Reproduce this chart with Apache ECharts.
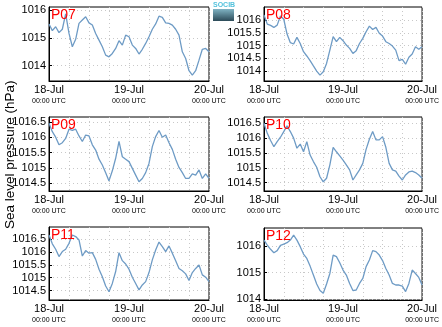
<!DOCTYPE html>
<html><head><meta charset="utf-8">
<script src="https://cdn.jsdelivr.net/npm/echarts@6/dist/echarts.min.js"></script>
<style>html,body{margin:0;padding:0;background:#fff}#c{width:442px;height:327px}</style>
</head><body><div id="c"></div>
<script>
// hours since 18-Jul 00:00 UTC
const hours = [0,1,2,3,4,5,6,7,8,9,10,11,12,13,14,15,16,17,18,19,20,21,22,23,24,25,26,27,28,29,30,31,32,33,34,35,36,37,38,39,40,41,42,43,44,45,46,47,48];
const xTickLabels = ['18-Jul','19-Jul','20-Jul'];
const xTickHours = [0,24,48];
const stations = ['P07','P08','P09','P10','P11','P12'];

const p07 = [1015.50,1015.26,1015.40,1015.19,1015.31,1015.86,1015.16,1014.68,1014.95,1015.52,1015.64,1015.76,1015.54,1015.46,1015.16,1014.92,1014.68,1014.38,1014.32,1014.44,1014.62,1014.90,1014.74,1015.10,1015.04,1014.74,1014.62,1014.42,1014.59,1014.80,1015.04,1015.31,1015.50,1015.78,1015.74,1015.54,1015.52,1015.46,1015.31,1015.10,1014.50,1014.26,1013.82,1013.66,1013.82,1014.20,1014.59,1014.62,1014.50];
const p08 = [1016.20,1015.84,1015.79,1015.71,1015.80,1016.16,1016.03,1015.45,1015.11,1015.06,1015.32,1015.08,1014.76,1014.59,1014.41,1014.20,1014.00,1013.84,1013.97,1014.30,1014.82,1015.35,1015.15,1015.32,1015.19,1015.02,1014.89,1014.69,1014.80,1015.08,1015.28,1015.54,1015.76,1015.63,1015.71,1015.48,1015.37,1015.15,1015.08,1014.98,1014.82,1014.41,1014.46,1014.27,1014.54,1014.67,1014.95,1014.85,1014.95];
const p09 = [1016.46,1016.18,1016.00,1015.75,1015.82,1015.96,1016.26,1016.22,1016.26,1016.04,1015.86,1016.07,1016.04,1015.75,1015.58,1015.28,1015.09,1014.84,1014.57,1014.90,1015.31,1015.86,1015.36,1015.28,1015.20,1014.98,1014.76,1014.54,1014.65,1014.84,1015.14,1015.69,1016.02,1016.22,1016.00,1016.07,1015.82,1015.60,1015.28,1015.01,1014.84,1014.65,1014.65,1014.80,1014.76,1014.93,1014.65,1014.80,1014.65];
const p10 = [1016.50,1016.16,1015.92,1015.71,1015.88,1016.03,1016.22,1016.41,1016.22,1016.00,1015.66,1015.80,1015.54,1015.88,1015.43,1015.21,1015.02,1014.70,1014.53,1014.65,1015.10,1015.69,1015.54,1015.40,1015.26,1015.10,1014.93,1014.59,1014.76,1014.93,1015.15,1015.62,1015.96,1016.22,1015.94,1015.94,1016.05,1015.69,1015.15,1014.93,1014.89,1014.72,1014.59,1014.76,1014.86,1014.89,1014.84,1014.76,1014.65];
const p11 = [1016.65,1016.31,1016.10,1015.82,1016.01,1016.10,1016.33,1016.65,1016.59,1016.46,1015.84,1016.05,1015.95,1015.97,1015.71,1015.33,1015.04,1014.68,1014.46,1014.78,1015.24,1015.97,1015.66,1015.53,1015.33,1015.02,1014.78,1014.53,1014.72,1014.85,1015.20,1015.69,1016.07,1016.38,1016.20,1016.01,1016.23,1015.95,1015.66,1015.36,1015.27,1015.15,1014.89,1015.20,1015.36,1015.49,1015.11,1015.02,1014.85];
const p12 = [1016.24,1016.05,1015.89,1015.76,1015.84,1016.04,1016.09,1016.14,1016.24,1016.43,1016.24,1015.99,1015.71,1015.54,1015.25,1014.91,1014.57,1014.32,1014.22,1014.57,1014.97,1015.67,1015.61,1015.38,1015.10,1014.91,1014.59,1014.32,1014.34,1014.59,1014.78,1015.23,1015.48,1015.84,1015.80,1015.67,1015.46,1015.16,1014.91,1014.59,1014.53,1014.53,1014.49,1014.28,1014.59,1015.10,1014.97,1014.82,1014.53];
const seriesValues = [p07,p08,p09,p10,p11,p12];

const yTicks = [
  [1014,1015,1016],
  [1014,1014.5,1015,1015.5,1016],
  [1014.5,1015,1015.5,1016,1016.5],
  [1014.5,1015,1015.5,1016,1016.5],
  [1014.5,1015,1015.5,1016,1016.5],
  [1014,1015,1016]
];
const yRanges = [
  [1013.45,1016.11],
  [1013.61,1016.51],
  [1014.24,1016.66],
  [1014.22,1016.71],
  [1014.14,1016.96],
  [1013.96,1016.70]
];

const grids = [
  {left:49, top:7, width:160, height:74},
  {left:264, top:7, width:160, height:74},
  {left:49, top:117, width:160, height:74},
  {left:264, top:117, width:160, height:74},
  {left:49, top:227, width:160, height:73},
  {left:264, top:228, width:160, height:72}
];

const FONT = 'Liberation Sans, Arial, sans-serif';
const option = {
  animation:false,
  backgroundColor:'#fff',
  grid: grids.map(g => Object.assign({show:true, borderColor:'#000', borderWidth:1, backgroundColor:'transparent'}, g)),
  xAxis: grids.map((g,i) => ({
    type:'value', gridIndex:i, min:0, max:48, interval:6,
    axisLine:{show:true, onZero:false, lineStyle:{color:'#000', width:1}},
    axisTick:{show:false},
    splitLine:{show:true, lineStyle:{color:'#c8c8c8', type:[1,3], width:1}},
    axisLabel:{
      customValues: xTickHours,
      margin:3, color:'#000', fontFamily:FONT, showMinLabel:true, showMaxLabel:true,
      formatter: v => {
        const k = xTickHours.indexOf(v);
        return k < 0 ? '' : '{a|' + xTickLabels[k] + '}\n{b|00:00 UTC}';
      },
      rich:{
        a:{fontSize:11, lineHeight:12, color:'#000', fontFamily:FONT},
        b:{fontSize:7, lineHeight:10, color:'#000', fontFamily:FONT}
      }
    }
  })),
  yAxis: grids.map((g,i) => ({
    type:'value', gridIndex:i, min:yRanges[i][0], max:yRanges[i][1],
    axisLine:{show:true, onZero:false, lineStyle:{color:'#000', width:1}},
    axisTick:{show:true, inside:true, length:3, customValues:yTicks[i], lineStyle:{color:'#000'}},
    splitLine:{show:true, lineStyle:{color:'#c8c8c8', type:[1,3], width:1}},
    axisLabel:{customValues:yTicks[i], margin:3, fontSize:11, color:'#000', fontFamily:FONT,
      formatter: v => String(+v.toFixed(1))}
  })),
  series: seriesValues.map((vals,i) => ({
    type:'line', xAxisIndex:i, yAxisIndex:i, showSymbol:false, symbol:'none',
    data: hours.map((h,k) => [h, vals[k]]),
    lineStyle:{color:'#6e9bc5', width:1.3}
  })),
  graphic: [
    ...grids.map((g,i) => ({
      type:'text', left:g.left + 2, top:g.top + 1, z:100,
      style:{text:stations[i], fill:'#ff0000', fontSize:14, fontFamily:FONT}
    })),
    {type:'text', rotation:Math.PI/2, x:3, y:229, z:100,
      style:{text:'Sea level pressure (hPa)', fill:'#000', fontSize:13.5, fontFamily:FONT, textVerticalAlign:'top'}},
    {type:'rect', shape:{x:213, y:9, width:21, height:12}, z:100,
      style:{fill:new echarts.graphic.LinearGradient(0,0,0,1,[{offset:0,color:'#7fb3c3'},{offset:1,color:'#2c4a58'}])}},
    {type:'text', x:213, y:2, z:100,
      style:{text:'SOCIB', fill:'#54c2dc', fontSize:7, fontFamily:FONT, fontWeight:'bold'}}
  ]
};
const chart = echarts.init(document.getElementById('c'), null, {renderer:'canvas'});
chart.setOption(option);
</script>
</body></html>
